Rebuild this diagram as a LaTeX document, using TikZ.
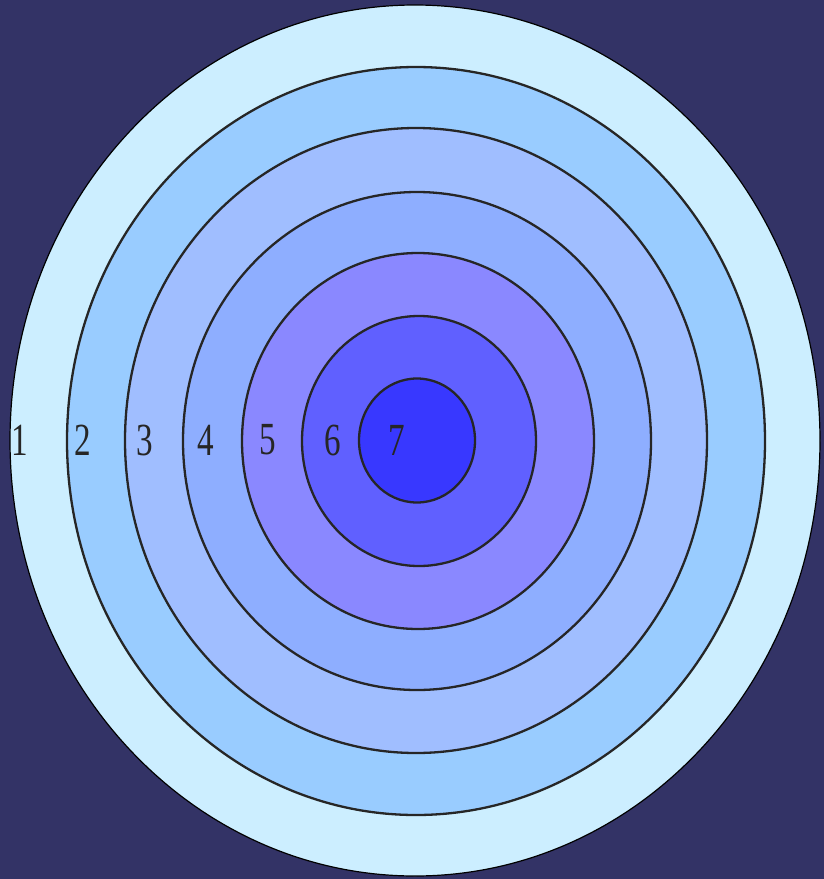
\documentclass[tikz,border=0pt]{standalone}
\usepackage{fontspec}
\setmainfont{Liberation Serif}
\definecolor{bgc}{HTML}{333366}
\definecolor{rA}{HTML}{CCEEFF}
\definecolor{rB}{HTML}{99CCFF}
\definecolor{rC}{HTML}{A0BEFF}
\definecolor{rD}{HTML}{8EAEFF}
\definecolor{rE}{HTML}{8A88FF}
\definecolor{rF}{HTML}{6060FF}
\definecolor{rG}{HTML}{3838FF}
\begin{document}
\begin{tikzpicture}[x=1pt,y=-1pt,
  ring/.style={draw=black!85,line width=2.3pt},
  lbl/.style={font=\fontsize{46}{46}\selectfont,xscale=0.72,text=black!85,inner sep=0pt}]
\fill[bgc] (0,0) rectangle (824,879);
\useasboundingbox (0,0) rectangle (824,879);
\filldraw[fill=rA,draw=black,line width=1.2pt] (415,440.5) ellipse [x radius=405,y radius=435.5];
\filldraw[ring,fill=rB] (416,441) ellipse [x radius=349,y radius=374];
\filldraw[ring,fill=rC] (416,440.5) ellipse [x radius=291,y radius=312.5];
\filldraw[ring,fill=rD] (417,441) ellipse [x radius=234,y radius=249];
\filldraw[ring,fill=rE] (418,441) ellipse [x radius=176,y radius=188];
\filldraw[ring,fill=rF] (419,441) ellipse [x radius=117,y radius=125];
\filldraw[ring,fill=rG] (417,440.5) ellipse [x radius=58,y radius=62];
\node[lbl] (l1) at (20,440) {1};
\node[lbl] (l2) at (83,440) {2};
\node[lbl] (l3) at (145,440) {3};
\node[lbl] (l4) at (206,440) {4};
\node[lbl] (l5) at (268,440) {5};
\node[lbl] (l6) at (333,440) {6};
\node[lbl] (l7) at (397,440) {7};
\end{tikzpicture}
\end{document}
